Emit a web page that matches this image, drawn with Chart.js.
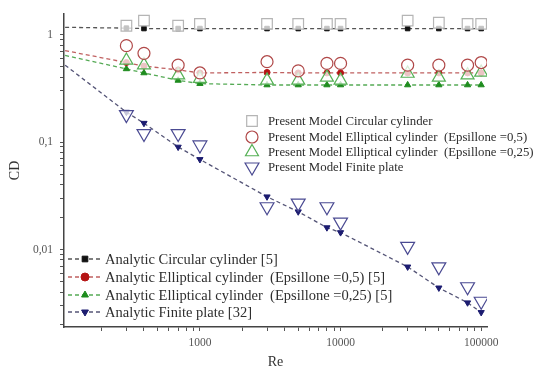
<!DOCTYPE html>
<html>
<head>
<meta charset="utf-8">
<script src="https://cdn.jsdelivr.net/npm/chart.js@4.4.0/dist/chart.umd.min.js"></script>
<style>
  body { margin: 0; background: #fff; }
  #wrap { width: 541px; height: 374px; position: relative; }
</style>
</head>
<body>
<div id="wrap"><canvas id="cd"></canvas></div>
<script>
// Data
const reModel = [300, 400, 700, 1000, 3000, 5000, 8000, 10000, 30000, 50000, 80000, 100000];
const reAnalytic = [110, 300, 400, 700, 1000, 3000, 5000, 8000, 10000, 30000, 50000, 80000, 100000];

const modelCircular = [1.21, 1.35, 1.21, 1.26, 1.26, 1.26, 1.26, 1.26, 1.35, 1.29, 1.26, 1.26];
const modelEllipse05 = [0.79, 0.67, 0.52, 0.44, 0.56, 0.46, 0.54, 0.54, 0.52, 0.52, 0.52, 0.55];
const modelEllipse025 = [0.575, 0.52, 0.42, 0.39, 0.375, 0.375, 0.40, 0.375, 0.435, 0.40, 0.42, 0.445];
const modelPlate = [0.18, 0.12, 0.12, 0.094, 0.025, 0.027, 0.025, 0.018, 0.0107, 0.0069, 0.0045, 0.0033];

const analyticCircular = [1.17, 1.15, 1.14, 1.14, 1.14, 1.14, 1.14, 1.14, 1.14, 1.14, 1.14, 1.14, 1.14];
const analyticEllipse05 = [0.71, 0.55, 0.51, 0.47, 0.44, 0.445, 0.44, 0.44, 0.44, 0.44, 0.44, 0.44, 0.44];
const analyticEllipse025 = [0.64, 0.48, 0.44, 0.375, 0.35, 0.34, 0.34, 0.34, 0.34, 0.34, 0.34, 0.34, 0.34];
const analyticPlate = [0.52, 0.19, 0.15, 0.09, 0.069, 0.031, 0.0225, 0.016, 0.0144, 0.0069, 0.0044, 0.0032, 0.0026];

const xDecades = [100, 1000, 10000, 100000];
const yDecades = [0.001, 0.01, 0.1, 1];
const xLabels = { 1000: '1000', 10000: '10000', 100000: '100000' };
const yLabels = { 0.01: '0,01', 0.1: '0,1', 1: '1' };

const modelNames = [
    'Present Model Circular cylinder',
    'Present Model Elliptical cylinder  (Epsillone =0,5)',
    'Present Model Elliptical cylinder  (Epsillone =0,25)',
    'Present Model Finite plate'
];
const analyticNames = [
    'Analytic Circular cylinder [5]',
    'Analytic Elliptical cylinder  (Epsillone =0,5) [5]',
    'Analytic Elliptical cylinder  (Epsillone =0,25) [5]',
    'Analytic Finite plate [32]'
];

const SERIF = "'Liberation Serif', 'DejaVu Serif', serif";

function pts(xs, ys) {
    return xs.map((x, i) => ({ x: x, y: ys[i] }));
}

function logTicks(decades, min, max) {
    const out = [];
    decades.forEach(d => {
        for (let m = 1; m <= 9; m++) {
            const v = +(d * m).toPrecision(6);
            if (v >= min && v <= max) out.push({ value: v });
        }
    });
    return out;
}

function modelSet(label, data, color, style, radius, rotation) {
    return {
        label: label,
        data: data,
        showLine: false,
        pointStyle: style,
        pointRotation: rotation || 0,
        pointRadius: radius,
        pointBorderWidth: 1.2,
        borderColor: color,
        backgroundColor: 'rgba(255,255,255,0.75)',
        order: 1
    };
}

function analyticSet(label, data, color, lineColor, style, radius, rotation) {
    return {
        label: label,
        data: data,
        showLine: true,
        borderColor: lineColor,
        borderWidth: 1.3,
        borderDash: [4, 3],
        pointStyle: style,
        pointRotation: rotation || 0,
        pointRadius: data.map((p, i) => i === 0 ? 0 : radius),
        pointBorderWidth: 1,
        pointBorderColor: color,
        pointBackgroundColor: color,
        backgroundColor: color,
        order: 2
    };
}

const datasets = [
    analyticSet(analyticNames[0], pts(reAnalytic, analyticCircular), '#111111', '#555555', 'rect', 3.2),
    analyticSet(analyticNames[1], pts(reAnalytic, analyticEllipse05), '#b51515', '#c06060', 'circle', 3),
    analyticSet(analyticNames[2], pts(reAnalytic, analyticEllipse025), '#1e8c1e', '#55aa55', 'triangle', 3.6),
    analyticSet(analyticNames[3], pts(reAnalytic, analyticPlate), '#1c1c70', '#555577', 'triangle', 3.6, 180),
    modelSet(modelNames[0], pts(reModel, modelCircular), '#b5b5b5', 'rect', 7.5),
    modelSet(modelNames[1], pts(reModel, modelEllipse05), '#b04848', 'circle', 6),
    modelSet(modelNames[2], pts(reModel, modelEllipse025), '#55b055', 'triangle', 7.5),
    modelSet(modelNames[3], pts(reModel, modelPlate), '#4a4a92', 'triangle', 8, 180)
];

// two legend boxes drawn inside the plot
const legendBoxes = {
    id: 'legendBoxes',
    afterDraw(chart) {
        const ctx = chart.ctx;
        const ds = chart.data.datasets;
        ctx.save();
        ctx.textBaseline = 'middle';
        ctx.textAlign = 'left';

        // present model legend
        const rowsA = [121, 137, 152, 167];
        ctx.font = '12.8px ' + SERIF;
        [4, 5, 6, 7].forEach((di, k) => {
            const d = ds[di];
            ctx.strokeStyle = d.borderColor;
            ctx.fillStyle = '#fff';
            ctx.lineWidth = 1.2;
            Chart.helpers.drawPoint(ctx, {
                pointStyle: d.pointStyle, rotation: d.pointRotation,
                radius: d.pointRadius, borderWidth: 1.2
            }, 252, rowsA[k]);
            ctx.fillStyle = '#2e2e2e';
            ctx.fillText(d.label, 268, rowsA[k] + 1);
        });

        // analytic legend
        const rowsB = [259, 277, 295, 312];
        ctx.font = '14.5px ' + SERIF;
        [0, 1, 2, 3].forEach((di, k) => {
            const d = ds[di];
            const y = rowsB[k];
            ctx.strokeStyle = d.borderColor;
            ctx.lineWidth = 1.3;
            ctx.setLineDash([4, 3]);
            ctx.beginPath();
            ctx.moveTo(68, y);
            ctx.lineTo(101, y);
            ctx.stroke();
            ctx.setLineDash([]);
            ctx.strokeStyle = d.pointBorderColor;
            ctx.fillStyle = d.pointBackgroundColor;
            ctx.lineWidth = 1;
            Chart.helpers.drawPoint(ctx, {
                pointStyle: d.pointStyle, rotation: d.pointRotation,
                radius: 4, borderWidth: 1
            }, 85, y);
            ctx.fillStyle = '#2e2e2e';
            ctx.fillText(d.label, 105, y + 1);
        });
        ctx.restore();
    }
};

new Chart(document.getElementById('cd'), {
    type: 'scatter',
    data: { datasets: datasets },
    options: {
        responsive: true,
        maintainAspectRatio: false,
        animation: false,
        layout: { padding: { left: 0, right: 54, top: 13, bottom: 0 } },
        plugins: {
            legend: { display: false },
            tooltip: { enabled: false }
        },
        scales: {
            x: {
                type: 'logarithmic',
                min: 108,
                max: 110000,
                afterBuildTicks: s => { s.ticks = logTicks(xDecades, s.min, s.max); },
                afterFit: s => { s.height = 47; },
                grid: { drawOnChartArea: false, tickLength: 4, tickColor: '#555' },
                border: { color: '#444', width: 1.5 },
                ticks: {
                    autoSkip: false, maxRotation: 0, padding: 5,
                    color: '#555', font: { family: SERIF, size: 11.5 },
                    callback: v => xLabels[v] || ''
                },
                title: { display: true, text: 'Re', color: '#333', font: { family: SERIF, size: 14 }, padding: { top: 2, bottom: 3 } }
            },
            y: {
                type: 'logarithmic',
                min: 0.0019,
                max: 1.56,
                afterBuildTicks: s => { s.ticks = logTicks(yDecades, s.min, s.max); },
                afterFit: s => { s.width = 64; },
                grid: { drawOnChartArea: false, tickLength: 4, tickColor: '#555' },
                border: { color: '#444', width: 1.5 },
                ticks: {
                    autoSkip: false, padding: 7,
                    color: '#555', font: { family: SERIF, size: 11.5 },
                    callback: v => yLabels[v] || ''
                },
                title: { display: true, text: 'CD', color: '#333', font: { family: SERIF, size: 14 }, padding: { top: 7, bottom: 4 } }
            }
        }
    },
    plugins: [legendBoxes]
});
</script>
</body>
</html>
